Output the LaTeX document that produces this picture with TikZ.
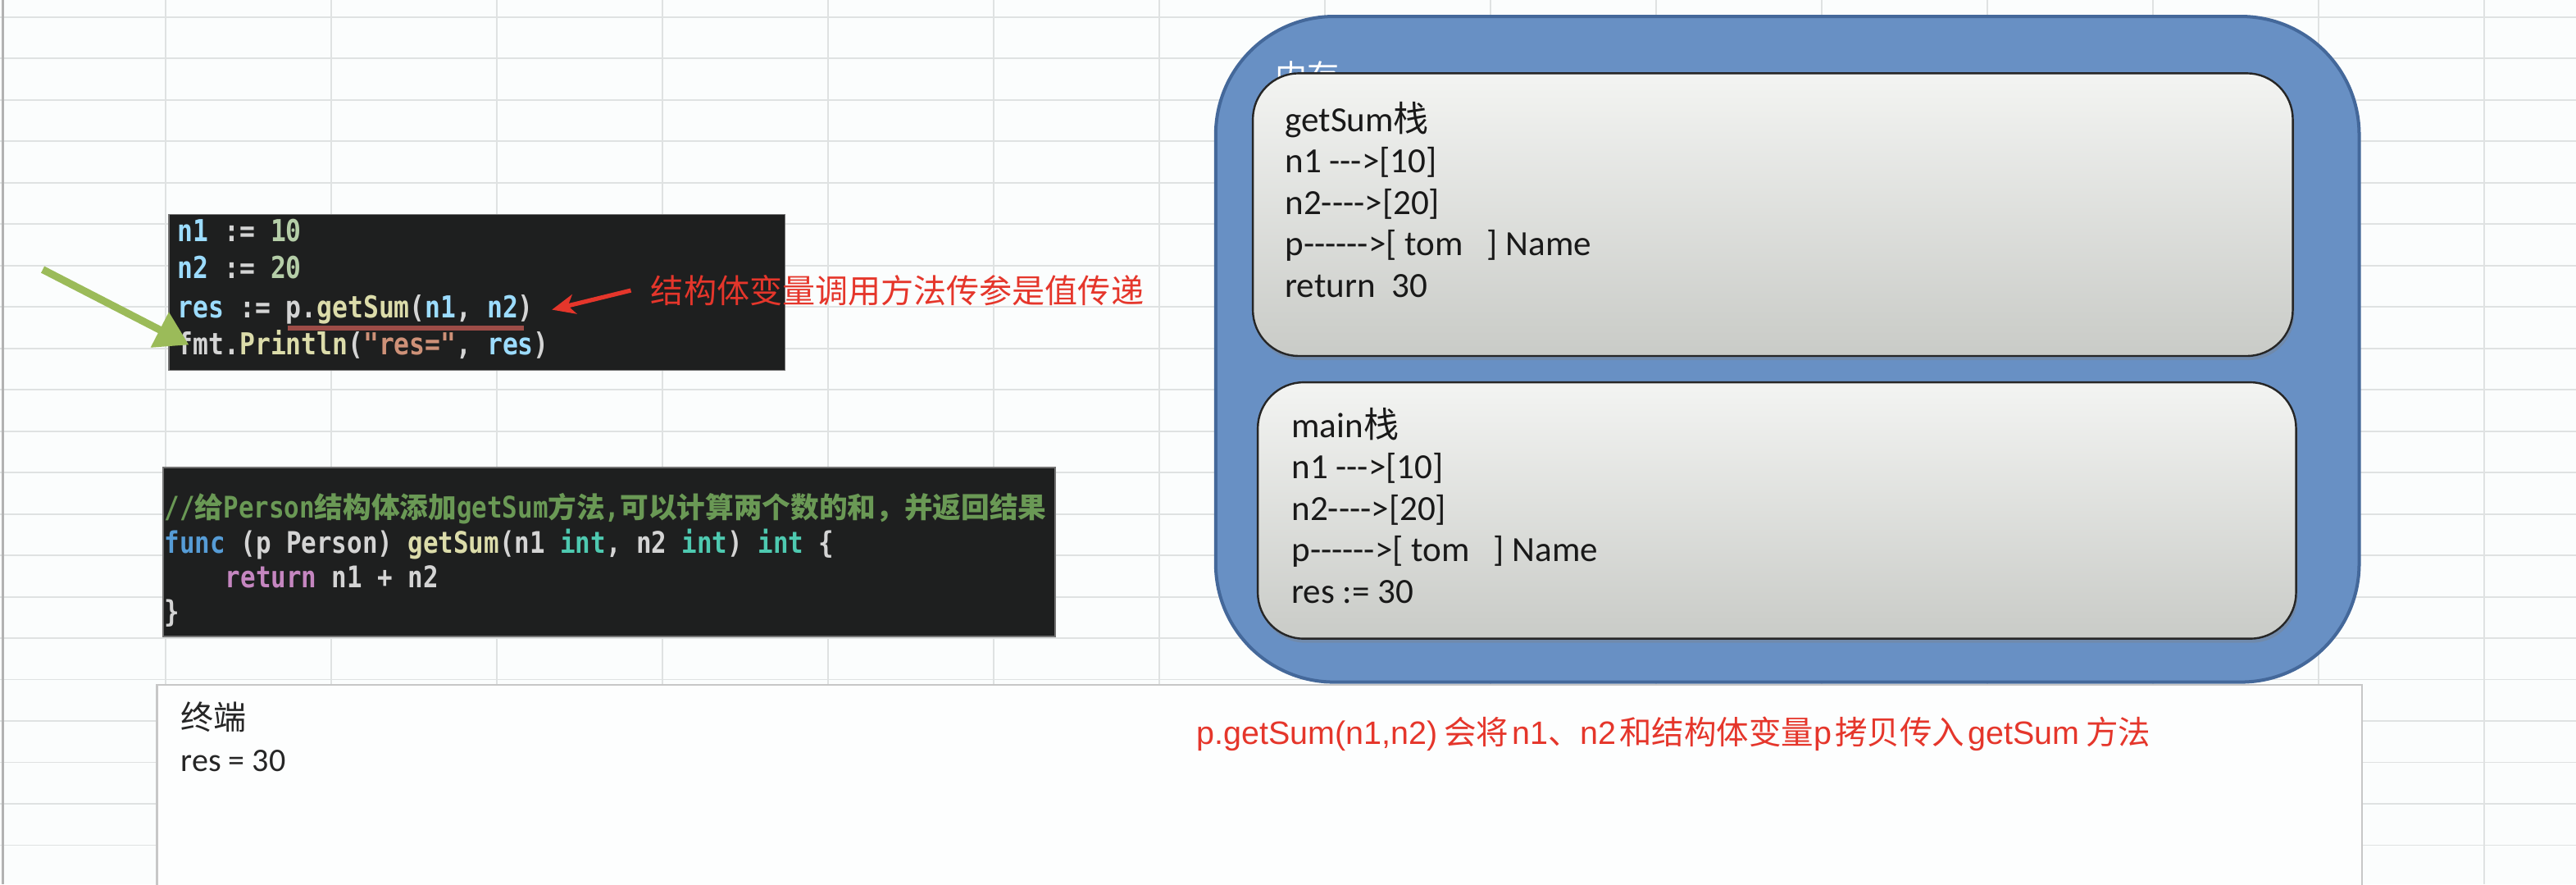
\documentclass[tikz,border=0pt]{standalone}
\usepackage{fontspec}
\setmainfont{Carlito}[Ligatures=TeXOff]
\newfontfamily\cjk{Noto Sans CJK SC}
\newfontfamily\codefont{DejaVu Sans Mono}[FakeStretch=0.85, Ligatures=TeXOff]
\newfontfamily\notefont{Liberation Sans}
\usetikzlibrary{arrows.meta,positioning,shadows}

\definecolor{sheetbg}{HTML}{FBFDFD}
\definecolor{gridline}{HTML}{DFE2E2}
\definecolor{codebg}{HTML}{1E1F1F}
\definecolor{codefg}{HTML}{D4D4D4}
\definecolor{govarc}{HTML}{9CDCFE}
\definecolor{gonumc}{HTML}{B5CEA8}
\definecolor{gofnc}{HTML}{DCDCAA}
\definecolor{gostrc}{HTML}{CE9178}
\definecolor{gotypec}{HTML}{4EC9B0}
\definecolor{gokwc}{HTML}{569CD6}
\definecolor{goctlc}{HTML}{C586C0}
\definecolor{gocmtc}{HTML}{6A9955}
\definecolor{memblue}{HTML}{6890C4}
\definecolor{memedge}{HTML}{44689A}
\definecolor{stacktop}{HTML}{F3F4F2}
\definecolor{stackbot}{HTML}{C9CBC7}
\definecolor{notered}{HTML}{E5362B}
\definecolor{arrowgreen}{HTML}{9BBB59}
\definecolor{ulred}{HTML}{B4544F}

% go syntax colours
\newcommand\govar[1]{\textcolor{govarc}{#1}}
\newcommand\gonum[1]{\textcolor{gonumc}{#1}}
\newcommand\gofn[1]{\textcolor{gofnc}{#1}}
\newcommand\gostr[1]{\textcolor{gostrc}{#1}}
\newcommand\gotype[1]{\textcolor{gotypec}{#1}}
\newcommand\gokw[1]{\textcolor{gokwc}{#1}}
\newcommand\goctl[1]{\textcolor{goctlc}{#1}}
\newcommand\zh[1]{{\cjk\fontsize{17.3}{20}\selectfont #1}}

\begin{document}
\begin{tikzpicture}[x=1pt, y=-1pt, >=Stealth,
    codebox/.style={fill=codebg, draw=black!55, line width=0.8pt, inner sep=0pt, anchor=north west},
    codeline/.style={anchor=base west, inner sep=0pt, text=codefg, font=\codefont\bfseries\fontsize{#1}{20}\selectfont},
    codeline/.default=18.4,
    membox/.style={fill=memblue, draw=memedge, line width=2pt, rounded corners=72pt, anchor=north west},
    stackbox/.style={draw=black!85, line width=1.2pt, rounded corners=28pt, top color=stacktop, bottom color=stackbot, anchor=north west,
      drop shadow={opacity=0.35, shadow xshift=1pt, shadow yshift=-2.5pt}},
    stacktext/.style={anchor=base west, inner sep=0pt, text=black!90, font=\fontsize{21.5}{25}\selectfont},
    termbox/.style={fill=white!60!sheetbg, draw=black!22, line width=1.2pt, anchor=north west},
    termtext/.style={anchor=base west, inner sep=0pt, text=black!85, font=\fontsize{20}{24}\selectfont},
    notetext/.style={text=notered, inner sep=0pt, font=\cjk\fontsize{19.7}{24}\selectfont},
    greenarrow/.style={draw=arrowgreen, line width=4.5pt, -{Triangle[length=20pt, width=23pt]}},
    redarrow/.style={draw=notered, line width=2.6pt, -{Stealth[length=14pt, width=12pt, inset=4pt]}}]

    \useasboundingbox (0,0) rectangle (1568,538);
    \clip (0,0) rectangle (1568,538);

    % Sheet grid
    \fill[sheetbg] (0,0) rectangle (1568,538);
    \foreach \gx in {1,...,15}
        \draw[gridline, line width=0.9pt] (100.8*\gx,0) -- (100.8*\gx,538);
    \foreach \gy in {0,...,21}
        \draw[gridline, line width=0.9pt] (0,10.3+25.2*\gy) -- (1568,10.3+25.2*\gy);
    \draw[black!30, line width=1.5pt] (1.5,0) -- (1.5,538);

    % Call site
    \node[codebox, minimum width=375pt, minimum height=95pt] (callcode) at (102.5,130) {};
    \node[codeline] (c1) at (108,147) {\govar{n1} := \gonum{10}};
    \node[codeline] (c2) at (108,169.5) {\govar{n2} := \gonum{20}};
    \node[codeline] (c3) at (108,193.5) {\govar{res} := p.\gofn{getSum}(\govar{n1}, \govar{n2})};
    \node[codeline] (c4) at (108,216) {fmt.\gofn{Println}(\gostr{"res="}, \govar{res})};
    \draw[ulred, opacity=0.85, line width=3.3pt] (175,199.6) -- (319,199.6);

    % Method
    \node[codebox, minimum width=543pt, minimum height=103pt] (methodcode) at (99,284) {};
    \node[codeline=18.1, text=gocmtc] (m1) at (100,315)
        {//\zh{给}Person\zh{结构体添加}getSum\zh{方法},\zh{可以计算两个数的和，并返回结果}};
    \node[codeline=18.1] (m2) at (100,336.5)
        {\gokw{func} (p Person) \gofn{getSum}(n1 \gotype{int}, n2 \gotype{int}) \gotype{int} \{};
    \node[codeline=18.1] (m3) at (137,357.5) {\goctl{return} n1 + n2};
    \node[codeline=18.1] (m4) at (100,378.5) {\}};

    % Arrows and note
    \coordinate (greentail) at (26,164);
    \draw[greenarrow] (greentail) -- ([xshift=7pt]c4.west);
    \node[notetext, anchor=west, inner xsep=12pt, font=\cjk\fontsize{20}{24}\selectfont] (callnote) at (384,176.7)
        {结构体变量调用方法传参是值传递};
    \draw[redarrow] (callnote.west) -- ([xshift=11pt]c3.east);

    % Memory
    \node[membox, minimum width=696pt, minimum height=405pt] (memory) at (739,9) {};
    \node[anchor=north west, inner sep=0pt, text=white, font=\cjk\fontsize{19.5}{20}\selectfont] (memlabel) at (776,37) {内存};

    % getSum stack
    \node[stackbox, minimum width=633pt, minimum height=172pt] (getsumstack) at (762,44) {};
    \foreach \txt [count=\i from 0] in {{getSum{\cjk 栈}}, {n1 -{}-{}->[10]}, {n2-{}-{}-{}->[20]},
        {p-{}-{}-{}-{}-{}->[ tom\ \ \ ] Name}, {return\ \ 30}}
        \node[stacktext] (gs\i) at (782,80+25.2*\i) {\txt};

    % main stack
    \node[stackbox, minimum width=632pt, minimum height=156pt] (mainstack) at (765,232) {};
    \foreach \txt [count=\i from 0] in {{main{\cjk 栈}}, {n1 -{}-{}->[10]}, {n2-{}-{}-{}->[20]},
        {p-{}-{}-{}-{}-{}->[ tom\ \ \ ] Name}, {res := 30}}
        \node[stacktext] (ms\i) at (786,266+25.2*\i) {\txt};

    % Terminal
    \node[termbox, minimum width=1342pt, minimum height=140pt] (terminal) at (95,416) {};
    \node[termtext] (termtitle) at (110,444) {\cjk 终端};
    \node[termtext] (termout) at (110,469.5) {res = 30};
    \node[notetext, anchor=base west] (copynote) at (728,453)
        {{\notefont p.getSum(n1,n2)}\hspace{4pt}会将\hspace{2pt}{\notefont n1}、{\notefont n2}\hspace{2pt}和结构体变量{\notefont p}\hspace{2pt}拷贝传入\hspace{2pt}{\notefont getSum}\hspace{4pt}方法};

\end{tikzpicture}
\end{document}
